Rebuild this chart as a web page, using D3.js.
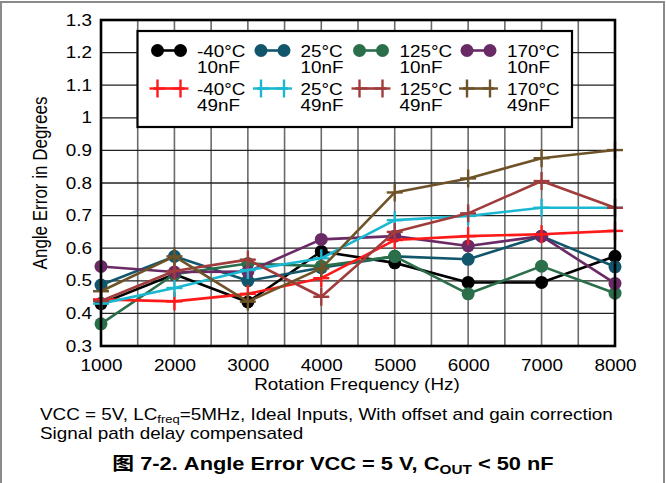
<!DOCTYPE html>
<html><head><meta charset="utf-8">
<script src="https://cdn.jsdelivr.net/npm/d3@7"></script>
<style>
body{margin:0;background:#fff;}
svg{display:block;font-family:"Liberation Sans",Arial,sans-serif;}
</style></head><body>
<svg id="c" width="666" height="483"></svg>
<script>
const freqs = [1000,2000,3000,4000,5000,6000,7000,8000];
const xTicks = [1000,2000,3000,4000,5000,6000,7000,8000];
const yTicks = [0.3,0.4,0.5,0.6,0.7,0.8,0.9,1.0,1.1,1.2,1.3];
const yTickLabels = ["0.3","0.4","0.5","0.6","0.7","0.8","0.9","1","1.1","1.2","1.3"];
const m40_10 = [0.43,0.52,0.435,0.59,0.555,0.495,0.495,0.575];
const p25_10 = [0.487,0.575,0.50,0.54,0.575,0.566,0.637,0.543];
const p125_10 = [0.368,0.52,0.553,0.545,0.575,0.46,0.545,0.462];
const p170_10 = [0.544,0.527,0.528,0.627,0.637,0.607,0.637,0.492];
const m40_49 = [0.443,0.437,0.46,0.508,0.625,0.637,0.643,0.653];
const p25_49 = [0.43,0.478,0.533,0.569,0.686,0.699,0.724,0.724];
const p125_49 = [0.438,0.53,0.565,0.451,0.65,0.707,0.806,0.724];
const p170_49 = [0.468,0.575,0.436,0.538,0.771,0.814,0.876,0.901];
const seriesNames = [["-40°C","10nF"],["25°C","10nF"],["125°C","10nF"],["170°C","10nF"],["-40°C","49nF"],["25°C","49nF"],["125°C","49nF"],["170°C","49nF"]];
const seriesValues = [m40_10,p25_10,p125_10,p170_10,m40_49,p25_49,p125_49,p170_49];
const seriesMarker = ["dot","dot","dot","dot","cross","cross","cross","cross"];
const colors = ["#000000","#12566b","#2a6e4a","#6a2a66","#ff1a1a","#1ab8d0","#a03c3c","#6e5228"];
const xTitle = "Rotation Frequency (Hz)";
const yTitle = "Angle Error in Degrees";

const SX = 1.18; // horizontal stretch of the reference lettering
const svg = d3.select("#c");
function txt(parent, x, y, str, size, anchor){
  return parent.append("text").attr("transform",`translate(${x},${y}) scale(${SX},1)`)
    .attr("font-size",size).attr("text-anchor",anchor||"start").text(str);
}
// outer figure frame
svg.append("rect").attr("x",1).attr("y",2).attr("width",663).attr("height",500)
  .attr("fill","none").attr("stroke","#8a8a8a").attr("stroke-width",2);

const L=101, R=615, T=20, B=346;
const x = d3.scaleLinear().domain([1000,8000]).range([L,R]);
const y = d3.scaleLinear().domain([0.3,1.3]).range([B,T]);

// grid
const g = svg.append("g");
const vgrid = d3.range(1000,8001,500);
g.selectAll("line.v").data(vgrid).join("line")
  .attr("x1",d=>x(d)).attr("x2",d=>x(d)).attr("y1",T).attr("y2",B)
  .attr("stroke","#6b6b6b").attr("stroke-width",1.6);
g.selectAll("line.h").data(yTicks).join("line")
  .attr("x1",L).attr("x2",R).attr("y1",d=>y(d)).attr("y2",d=>y(d))
  .attr("stroke","#222").attr("stroke-width",1.3);

// axes
const yAxis = d3.axisLeft(y).tickValues(yTicks).tickSize(0).tickPadding(9/SX)
  .tickFormat((d,i)=>yTickLabels[i]);
const ya = svg.append("g").attr("transform",`translate(${L},0)`).call(yAxis);
ya.select(".domain").remove();
ya.selectAll("text").attr("font-size",16).attr("fill","#000")
  .attr("font-family","Liberation Sans, Arial, sans-serif").attr("transform",`scale(${SX},1)`);
const xAxis = d3.axisBottom(x).tickValues(xTicks).tickSize(0).tickPadding(14).tickFormat(d3.format("d"));
const xa = svg.append("g").attr("transform",`translate(0,${B})`).call(xAxis);
xa.select(".domain").remove();
xa.selectAll("text").attr("font-size",16).attr("fill","#000")
  .attr("font-family","Liberation Sans, Arial, sans-serif").attr("transform",`scale(${SX},1)`);

txt(svg,(L+R)/2-1,390,xTitle,16,"middle");
svg.append("text").attr("transform",`translate(47,${(T+B)/2}) rotate(-90) scale(1,${SX})`).attr("text-anchor","middle")
  .attr("font-size",17).text(yTitle);

// series
const line = d3.line().x((d,i)=>x(freqs[i])).y(d=>y(d));
const plot = svg.append("g");
function drawMarker(sel, type, color, cx, cy){
  if(type==="dot"){
    sel.append("circle").attr("cx",cx).attr("cy",cy).attr("r",6.5).attr("fill",color);
  } else {
    sel.append("line").attr("x1",cx-8).attr("x2",cx+8).attr("y1",cy).attr("y2",cy).attr("stroke",color).attr("stroke-width",2.4);
    sel.append("line").attr("x1",cx).attr("x2",cx).attr("y1",cy-9).attr("y2",cy+9).attr("stroke",color).attr("stroke-width",2.4);
  }
}
seriesValues.forEach((vals,si)=>{
  const gg = plot.append("g");
  gg.append("path").datum(vals).attr("d",line).attr("fill","none")
    .attr("stroke",colors[si]).attr("stroke-width",2.6).attr("stroke-linejoin","round");
  vals.forEach((v,i)=>drawMarker(gg,seriesMarker[si],colors[si],x(freqs[i]),y(v)));
});

// plot frame
svg.append("rect").attr("x",L).attr("y",T).attr("width",R-L).attr("height",B-T)
  .attr("fill","none").attr("stroke","#000").attr("stroke-width",2.6);

// legend
const lg = svg.append("g");
lg.append("rect").attr("x",137.5).attr("y",31).attr("width",434.5).attr("height",96)
  .attr("fill","#fff").attr("stroke","#000").attr("stroke-width",2.2);
const colX = [151.5,255,353.5,461];
const textX = [197,300.5,399.5,507];
const rowY = [50.5,88.5];
seriesNames.forEach((nm,si)=>{
  const c = si%4, r = Math.floor(si/4);
  const sx = colX[c], sy = rowY[r];
  lg.append("line").attr("x1",sx+2).attr("x2",sx+33).attr("y1",sy).attr("y2",sy)
    .attr("stroke",colors[si]).attr("stroke-width",2.6);
  drawMarker(lg,seriesMarker[si],colors[si],sx+6,sy);
  drawMarker(lg,seriesMarker[si],colors[si],sx+29,sy);
  txt(lg,textX[c],sy+6.5,nm[0],16);
  txt(lg,textX[c],sy+22,nm[1],16);
});

// notes
const n1 = txt(svg,40,420,"",16);
n1.append("tspan").text("VCC = 5V, LC");
n1.append("tspan").attr("font-size",11).attr("dy",3).text("freq");
n1.append("tspan").attr("dy",-3).text("=5MHz, Ideal Inputs, With offset and gain correction");
txt(svg,40,438.5,"Signal path delay compensated",16);
const cap = txt(svg,333,470,"",18.5,"middle").attr("font-weight","bold");
cap.append("tspan").attr("font-family","Noto Sans CJK SC").text("图");
cap.append("tspan").text(" 7-2. Angle Error VCC = 5 V, C");
cap.append("tspan").attr("font-size",13).attr("dy",4).text("OUT");
cap.append("tspan").attr("dy",-4).text(" < 50 nF");
</script>
</body></html>
